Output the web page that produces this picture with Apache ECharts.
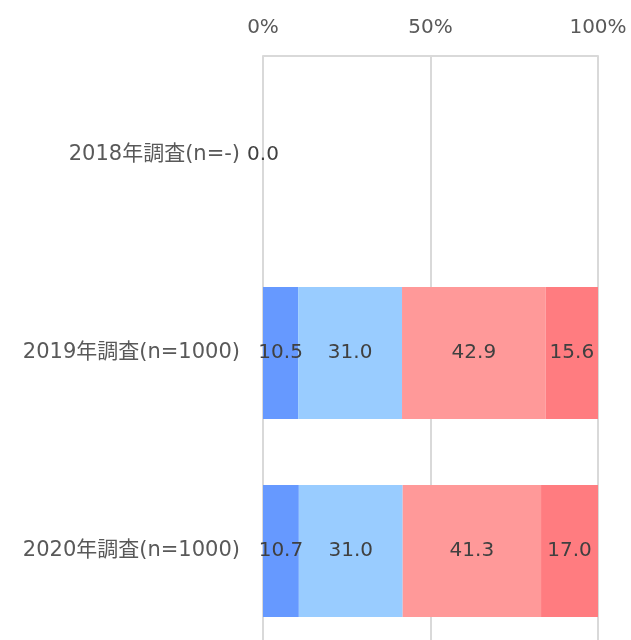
<!DOCTYPE html>
<html>
<head>
<meta charset="utf-8">
<script src="https://cdn.jsdelivr.net/npm/echarts@6/dist/echarts.min.js"></script>
<style>
  html, body { margin: 0; padding: 0; background: #fff; }
  #chart { width: 631px; height: 640px; }
</style>
</head>
<body>
<div id="chart"></div>
<script>
// 調査年
var categories = ['2018年調査(n=-)', '2019年調査(n=1000)', '2020年調査(n=1000)'];
// 各系列の割合 (%)
var series1 = [0, 10.5, 10.7];
var series2 = [0, 31.0, 31.0];
var series3 = [0, 42.9, 41.3];
var series4 = [0, 15.6, 17.0];
var xTicks = [0, 50, 100];

var colors = ['#6699FF', '#99CCFF', '#FF9999', '#FF7C80'];
var fontFamily = '"DejaVu Sans", "Noto Sans CJK JP", sans-serif';

var chart = echarts.init(document.getElementById('chart'));

function makeSeries(name, data, idx) {
  return {
    name: name,
    type: 'bar',
    stack: 'total',
    barWidth: '66.7%',
    data: data,
    itemStyle: {
      color: colors[idx]
    },
    label: {
      show: true,
      position: 'inside',
      color: '#404040',
      fontSize: 20,
      fontFamily: fontFamily,
      formatter: function (p) { return p.value.toFixed(1); }
    },
    labelLayout: { hideOverlap: true }
  };
}

var option = {
  animation: false,
  grid: {
    left: 263,
    right: 33,
    top: 56,
    bottom: -10,
    outerBoundsMode: 'none'
  },
  xAxis: {
    type: 'value',
    position: 'top',
    min: xTicks[0],
    max: xTicks[xTicks.length - 1],
    interval: 50,
    axisLine: { show: true, lineStyle: { color: '#d9d9d9', width: 2 } },
    axisTick: { show: false },
    axisLabel: {
      color: '#595959',
      fontSize: 20,
      fontFamily: fontFamily,
      margin: 18,
      formatter: '{value}%'
    },
    splitLine: { show: true, lineStyle: { color: '#d9d9d9', width: 2 } }
  },
  yAxis: {
    type: 'category',
    inverse: true,
    data: categories,
    axisLine: { show: false },
    axisTick: { show: false },
    axisLabel: {
      color: '#595959',
      fontSize: 21,
      fontFamily: fontFamily,
      margin: 23
    }
  },
  series: [
    makeSeries('系列1', series1, 0),
    makeSeries('系列2', series2, 1),
    makeSeries('系列3', series3, 2),
    makeSeries('系列4', series4, 3)
  ]
};

chart.setOption(option);
</script>
</body>
</html>
